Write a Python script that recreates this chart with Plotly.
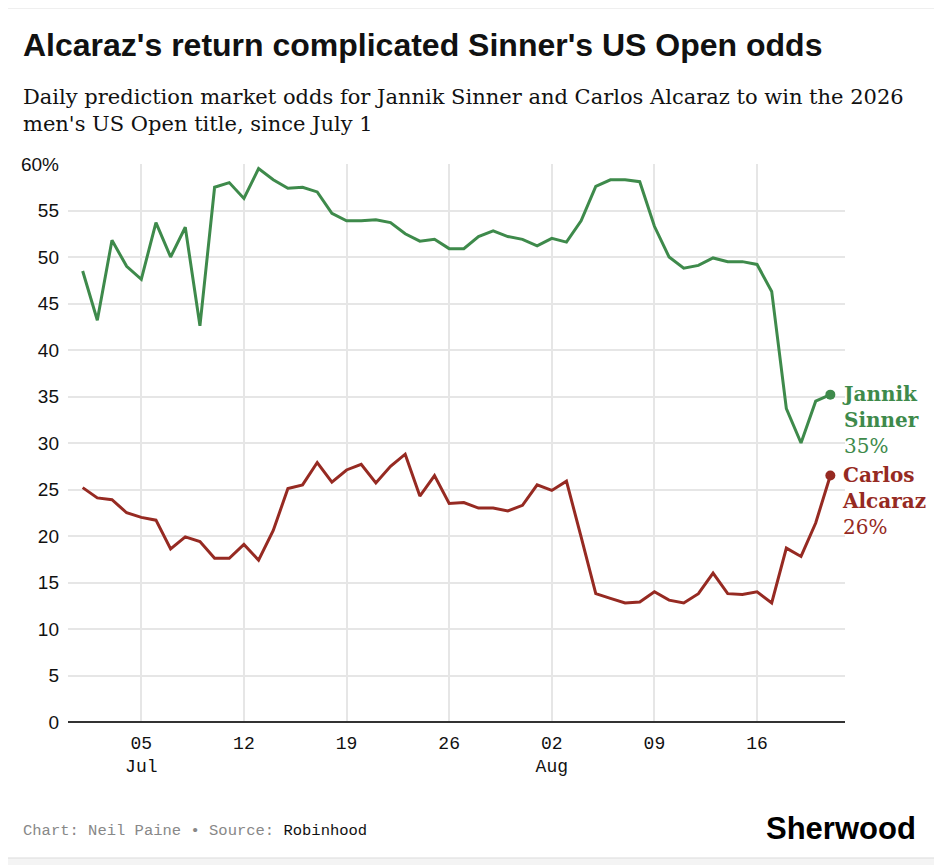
import plotly.graph_objects as go
import pandas as pd

# daily odds (%), July 1 - Aug 21
dates = pd.date_range('2026-07-01', '2026-08-21', freq='D')

sinner = [48.5, 43.2, 51.8, 49.0, 47.6, 53.7, 50.0, 53.2, 42.6, 57.5,
          58.0, 56.3, 59.5, 58.3, 57.4, 57.5, 57.0, 54.7, 53.9, 53.9,
          54.0, 53.7, 52.5, 51.7, 51.9, 50.9, 50.9, 52.2, 52.8, 52.2,
          51.9, 51.2, 52.0, 51.6, 53.9, 57.6, 58.3, 58.3, 58.1, 53.3,
          50.0, 48.8, 49.1, 49.9, 49.5, 49.5, 49.2, 46.3, 33.7, 30.0,
          34.5, 35.2]

alcaraz = [25.2, 24.1, 23.9, 22.5, 22.0, 21.7, 18.6, 19.9, 19.4, 17.6,
           17.6, 19.1, 17.4, 20.6, 25.1, 25.5, 27.9, 25.8, 27.1, 27.7,
           25.7, 27.5, 28.8, 24.3, 26.5, 23.5, 23.6, 23.0, 23.0, 22.7,
           23.3, 25.5, 24.9, 25.9, 19.9, 13.8, 13.3, 12.8, 12.9, 14.0,
           13.1, 12.8, 13.8, 16.0, 13.8, 13.7, 14.0, 12.8, 18.7, 17.8,
           21.4, 26.5]

tick_dates = ['2026-07-05', '2026-07-12', '2026-07-19', '2026-07-26',
              '2026-08-02', '2026-08-09', '2026-08-16']
tick_labels = ['05<br>Jul', '12', '19', '26', '02<br>Aug', '09', '16']

y_ticks = [0, 5, 10, 15, 20, 25, 30, 35, 40, 45, 50, 55, 60]
y_labels = ['0', '5', '10', '15', '20', '25', '30', '35', '40', '45', '50', '55', '60%']

GREEN = '#3e8a4b'
RED = '#962a22'

fig = go.Figure()

for name, vals, color in [('Jannik Sinner', sinner, GREEN), ('Carlos Alcaraz', alcaraz, RED)]:
    fig.add_trace(go.Scatter(
        x=dates, y=vals, mode='lines', name=name,
        line=dict(color=color, width=3),
        hovertemplate='%{x|%b %d}: %{y:.1f}%<extra>' + name + '</extra>',
    ))
    # end dot
    fig.add_trace(go.Scatter(
        x=[dates[-1]], y=[vals[-1]], mode='markers',
        marker=dict(color=color, size=10), hoverinfo='skip',
    ))

# end labels
for name, vals, color in [('Jannik<br>Sinner', sinner, GREEN), ('Carlos<br>Alcaraz', alcaraz, RED)]:
    fig.add_annotation(
        x=dates[-1], y=vals[-1], xref='x', yref='y',
        text='<b>' + name + '</b><br>' + f'{round(vals[-1])}%',
        showarrow=False, xanchor='left', yanchor='top', align='left',
        xshift=10, yshift=15,
        font=dict(family='DejaVu Serif', size=20, color=color),
    )

# card background
fig.add_shape(type='rect', xref='paper', yref='paper',
              x0=-0.0824, x1=1.1171, y0=-0.2437, y1=1.2796,
              fillcolor='white', line=dict(color='#dddddd', width=1), layer='below')

# page body adds 8px margin, so figure is 8px smaller and offsets are shifted
fig.update_layout(
    width=934, height=857,
    margin=dict(l=60, r=97, t=156, b=143),
    paper_bgcolor='#f4f4f4',
    plot_bgcolor='white',
    showlegend=False,
    xaxis=dict(
        range=['2026-06-30', '2026-08-22'],
        tickvals=tick_dates, ticktext=tick_labels,
        showgrid=True, gridcolor='#e6e6e6', gridwidth=1.5,
        zeroline=False, showline=False, ticks='', ticklabelstandoff=8,
        tickfont=dict(family='Liberation Mono', size=18, color='#111111'),
    ),
    yaxis=dict(
        range=[0, 60],
        tickvals=y_ticks, ticktext=y_labels,
        showgrid=True, gridcolor='#e6e6e6', gridwidth=1.5,
        zeroline=True, zerolinecolor='#333333', zerolinewidth=1.5,
        ticks='', ticklabelstandoff=8,
        tickfont=dict(family='Liberation Sans', size=19, color='#111111'),
    ),
)

# title, subtitle, footer
fig.add_annotation(
    text='<b>Alcaraz\'s return complicated Sinner\'s US Open odds</b>',
    xref='paper', yref='paper', x=-0.061, y=1.213, xanchor='left', yanchor='middle',
    showarrow=False, font=dict(family='Liberation Sans', size=32, color='#111111'),
)
fig.add_annotation(
    text='Daily prediction market odds for Jannik Sinner and Carlos Alcaraz to win the 2026<br>'
         'men\'s US Open title, since July 1',
    xref='paper', yref='paper', x=-0.061, y=1.095, xanchor='left', yanchor='middle',
    align='left', showarrow=False,
    font=dict(family='DejaVu Serif', size=21, color='#111111'),
)
fig.add_annotation(
    text='<span style="color:#888888">Chart: Neil Paine \u2022 Source: </span>Robinhood',
    xref='paper', yref='paper', x=-0.061, y=-0.1953, xanchor='left', yanchor='middle',
    showarrow=False, font=dict(family='Liberation Mono', size=15.5, color='#111111'),
)
fig.add_annotation(
    text='<b>Sherwood</b>',
    xref='paper', yref='paper', x=1.0945, y=-0.19, xanchor='right', yanchor='middle',
    showarrow=False, font=dict(family='Liberation Sans', size=31, color='#000000'),
)

fig.write_html('out.html')
